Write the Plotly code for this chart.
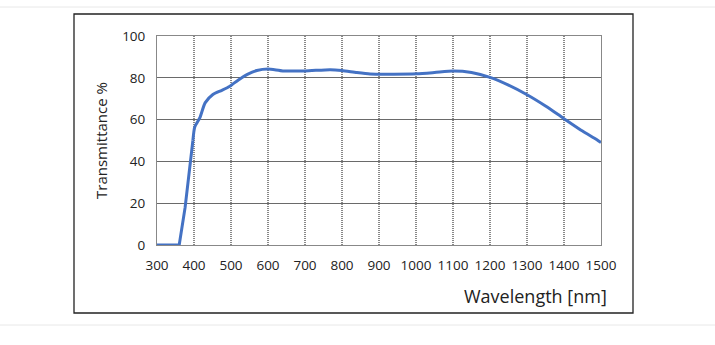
import plotly.graph_objects as go

wavelength = [300, 360, 376, 390, 397, 402, 416, 430, 451, 475, 497, 520, 543, 570, 600, 640, 700, 768, 800, 840, 876, 940, 1002, 1050, 1100, 1150, 1200, 1250, 1299, 1350, 1398, 1450, 1488, 1500]
transmittance = [0, 0, 18, 38, 50, 56.5, 61, 68, 72, 74, 76, 79, 81.5, 83.5, 84.2, 83.3, 83.3, 83.9, 83.5, 82.5, 81.8, 81.7, 81.9, 82.5, 83.2, 82.5, 80.2, 76.5, 72, 66.5, 60.7, 54.5, 50.5, 49]

x_ticks = list(range(300, 1501, 100))
y_ticks = [0, 20, 40, 60, 80, 100]

LINE_COLOR = "#4472C4"
SPLIT = 4  # index where the steep linear rise ends and the smooth part begins

fig = go.Figure()
fig.add_trace(go.Scatter(x=wavelength[:SPLIT + 1], y=transmittance[:SPLIT + 1], mode="lines",
                         line=dict(color=LINE_COLOR, width=3),
                         hoverinfo="skip", showlegend=False))
fig.add_trace(go.Scatter(x=wavelength[SPLIT:], y=transmittance[SPLIT:], mode="lines",
                         line=dict(color=LINE_COLOR, width=3, shape="spline", smoothing=0.6),
                         hoverinfo="skip", showlegend=False))

W, H = 715, 345
L, T = 157, 36
pw, ph = 444, 209
R = W - L - pw
B = H - T - ph

def px(x):
    return (x - L) / pw

def py(y):
    return (H - B - y) / ph

shapes = []
for xv in x_ticks[1:-1]:
    shapes.append(dict(type="line", xref="x", yref="y", x0=xv, x1=xv, y0=0, y1=100,
                       line=dict(color="#111111", width=1, dash="1px,1px"), layer="below"))
shapes.append(dict(type="rect", xref="paper", yref="paper", x0=px(74), x1=px(633), y0=py(313), y1=py(14),
                   line=dict(color="#222222", width=1.3)))
for yy in [7, 325]:
    shapes.append(dict(type="line", xref="paper", yref="paper", x0=px(0), x1=px(715), y0=py(yy), y1=py(yy),
                       line=dict(color="#e8e8e8", width=1)))

fig.update_layout(
    width=W, height=H,
    margin=dict(l=L, r=R, t=T, b=B),
    paper_bgcolor="white", plot_bgcolor="white",
    font=dict(family="Open Sans, sans-serif", size=13, color="#222222"),
    xaxis=dict(range=[300, 1500], tickvals=x_ticks, ticktext=[str(v) for v in x_ticks],
               showgrid=False, zeroline=False, showline=True, linecolor="#888888", linewidth=1,
               mirror=True, ticks="outside", ticklen=8, tickcolor="rgba(0,0,0,0)",
               tickfont=dict(size=13.5)),
    yaxis=dict(range=[0, 100], tickvals=y_ticks, showgrid=True, gridcolor="#6a6a6a", gridwidth=1,
               zeroline=False, showline=True, linecolor="#888888", linewidth=1, mirror=True,
               ticks="outside", ticklen=8, tickcolor="rgba(0,0,0,0)", tickfont=dict(size=13.5),
               title=dict(text="Transmittance %", font=dict(size=15), standoff=10)),
    shapes=shapes,
    annotations=[dict(text="Wavelength [nm]", xref="paper", yref="paper", x=px(609), y=py(296),
                      xanchor="right", yanchor="middle", showarrow=False,
                      font=dict(size=18, color="#222222"))],
)

fig.write_html("out.html", config={"displayModeBar": False},
               post_script="document.body.style.margin='0';")
